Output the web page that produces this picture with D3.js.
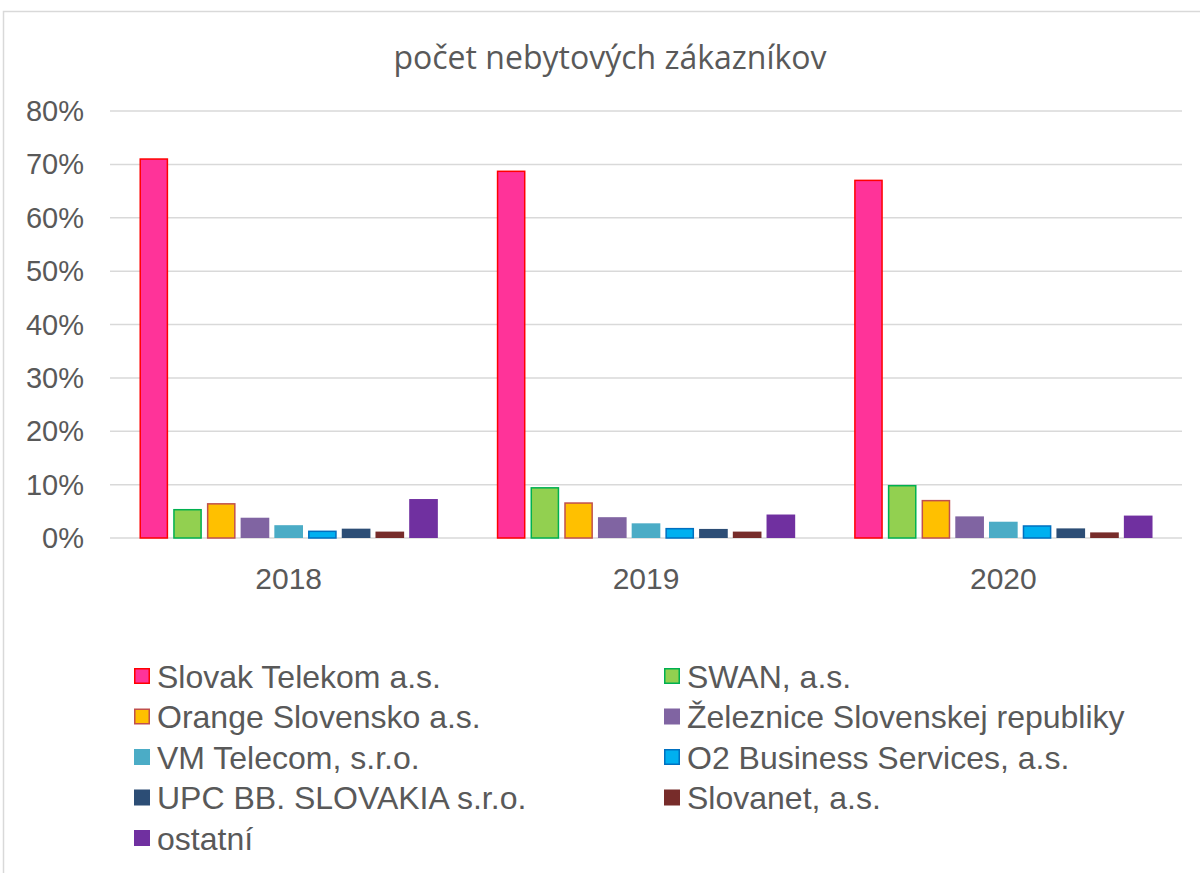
<!DOCTYPE html>
<html>
<head>
<meta charset="utf-8">
<script src="https://cdn.jsdelivr.net/npm/d3@7/dist/d3.min.js"></script>
<style>
  html, body { margin: 0; padding: 0; background: #fff; }
  svg { display: block; }
  .tick-label { font-family: "Liberation Sans", Arial, sans-serif; font-size: 29px; fill: #595959; }
  .cat-label { font-family: "Liberation Sans", Arial, sans-serif; font-size: 30px; fill: #595959; }
  .title { font-family: "Open Sans", "Noto Sans", sans-serif; font-size: 32px; fill: #595959; }
  .legend-text { font-family: "Liberation Sans", Arial, sans-serif; font-size: 32px; fill: #595959; }
</style>
</head>
<body>
<div id="chart"></div>
<script>
/* ============================================================
   Chart: počet nebytových zákazníkov
   ============================================================ */

const years = ['2018', '2019', '2020'];
const companies = [
    'Slovak Telekom a.s.',
    'SWAN, a.s.',
    'Orange Slovensko a.s.',
    'Železnice Slovenskej republiky',
    'VM Telecom, s.r.o.',
    'O2 Business Services, a.s.',
    'UPC BB. SLOVAKIA s.r.o.',
    'Slovanet, a.s.',
    'ostatní'
];
// share of customers per company, one array per year
const share2018 = [0.710, 0.053, 0.064, 0.038, 0.024, 0.0125, 0.0175, 0.012, 0.073];
const share2019 = [0.687, 0.094, 0.0655, 0.039, 0.0275, 0.0175, 0.017, 0.012, 0.044];
const share2020 = [0.670, 0.098, 0.070, 0.0405, 0.0305, 0.0225, 0.018, 0.0105, 0.042];
const yTicks = [0, 0.1, 0.2, 0.3, 0.4, 0.5, 0.6, 0.7, 0.8];

const COLORS = {
    fill:   ['#FF3399', '#92D050', '#FFC000', '#8064A2', '#4BACC6', '#00B0F0', '#2C4D75', '#772C2A', '#7030A0'],
    stroke: ['#FF0000', '#00B050', '#C0504D', 'none', 'none', '#0070C0', 'none', 'none', 'none'],
    grid: '#D9D9D9',
    text: '#595959'
};

function drawChart() {
    const shares = [share2018, share2019, share2020];
    const W = 1200, H = 873;

    const svg = d3.select('#chart').append('svg')
        .attr('width', W).attr('height', H);

    // chart frame
    svg.append('rect')
        .attr('x', 3.5).attr('y', 11.5).attr('width', W + 20).attr('height', H + 20)
        .attr('fill', 'none').attr('stroke', COLORS.grid).attr('stroke-width', 1.5);

    svg.append('text').attr('class', 'title')
        .attr('x', 610).attr('y', 69).attr('text-anchor', 'middle')
        .text('počet nebytových zákazníkov');

    const x0 = d3.scaleBand().domain(years).range([110, 1182]).paddingInner(0.165).paddingOuter(0.0825);
    const x1 = d3.scaleBand().domain(d3.range(companies.length)).range([0, x0.bandwidth()]).paddingInner(0.15);
    const y = d3.scaleLinear().domain([0, 0.8]).range([538, 111]);

    // gridlines
    yTicks.forEach(t => {
        svg.append('line')
            .attr('x1', 110).attr('x2', 1182)
            .attr('y1', y(t)).attr('y2', y(t))
            .attr('stroke', COLORS.grid).attr('stroke-width', 1.5);
        svg.append('text').attr('class', 'tick-label')
            .attr('x', 84).attr('y', y(t) + 10).attr('text-anchor', 'end')
            .text(d3.format('.0%')(t));
    });

    // bars
    years.forEach((yr, i) => {
        const g = svg.append('g').attr('transform', `translate(${x0(yr)},0)`);
        shares[i].forEach((v, j) => {
            const hasStroke = COLORS.stroke[j] !== 'none';
            g.append('rect')
                .attr('x', x1(j) + (hasStroke ? 0.75 : 0))
                .attr('y', y(v))
                .attr('width', x1.bandwidth() - (hasStroke ? 1.5 : 0))
                .attr('height', y(0) - y(v))
                .attr('fill', COLORS.fill[j])
                .attr('stroke', COLORS.stroke[j])
                .attr('stroke-width', 1.5);
        });
        svg.append('text').attr('class', 'cat-label')
            .attr('x', x0(yr) + x0.bandwidth() / 2).attr('y', 589).attr('text-anchor', 'middle')
            .text(yr);
    });

    // legend, two columns
    const legend = svg.append('g');
    companies.forEach((name, j) => {
        const col = j % 2, row = Math.floor(j / 2);
        const lx = col === 0 ? 134 : 664;
        const ly = 676 + row * 40.5;
        const hasStroke = COLORS.stroke[j] !== 'none';
        legend.append('rect')
            .attr('x', lx + (hasStroke ? 0.75 : 0)).attr('y', ly - 8 + (hasStroke ? 0.75 : 0))
            .attr('width', hasStroke ? 14.5 : 16).attr('height', hasStroke ? 14.5 : 16)
            .attr('fill', COLORS.fill[j])
            .attr('stroke', COLORS.stroke[j]).attr('stroke-width', 1.5);
        legend.append('text').attr('class', 'legend-text')
            .attr('x', lx + 23).attr('y', ly + 11.5)
            .text(name);
    });
}

drawChart();
</script>
</body>
</html>
